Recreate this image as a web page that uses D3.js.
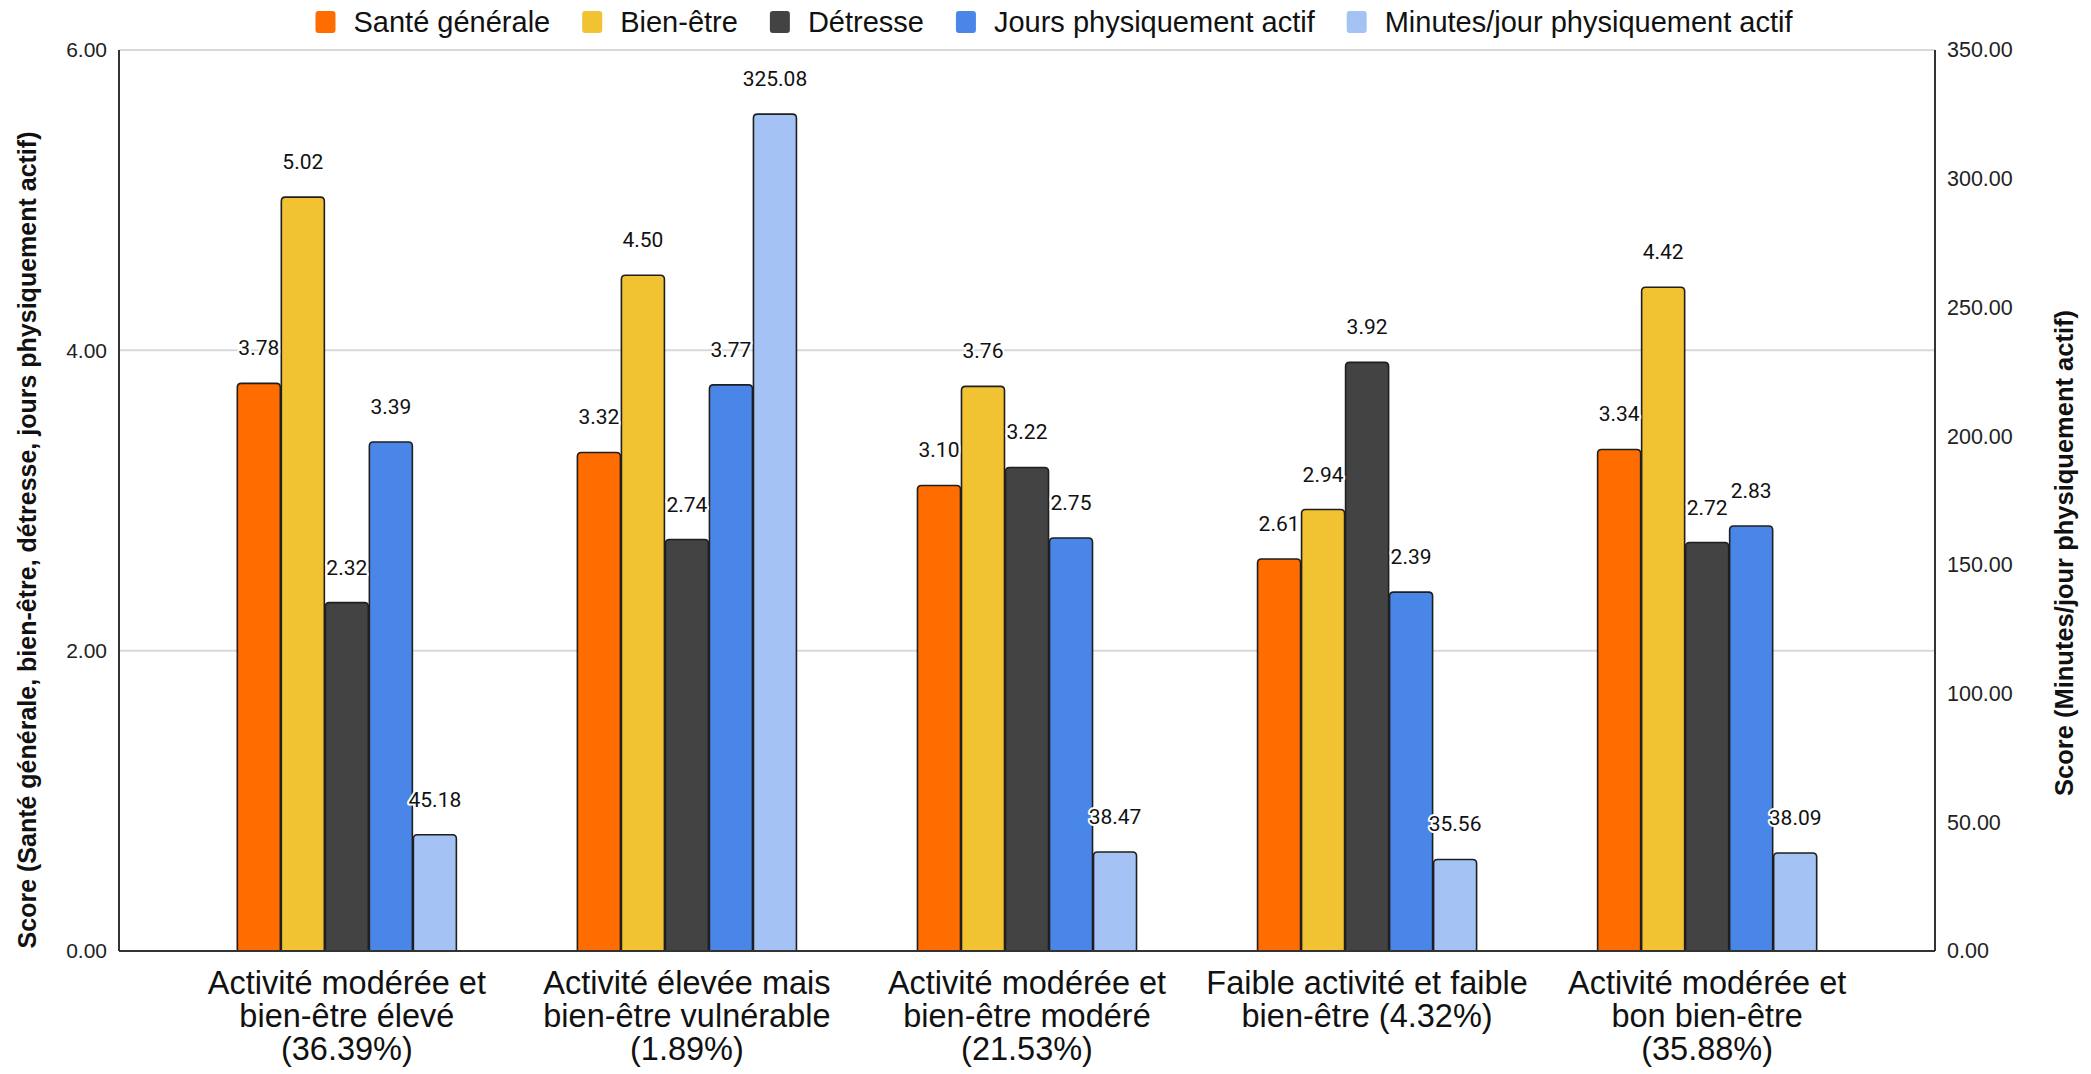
<!DOCTYPE html>
<html>
<head>
<meta charset="utf-8">
<script src="https://cdn.jsdelivr.net/npm/d3@7"></script>
<style>
  html, body { margin: 0; padding: 0; background: #ffffff; }
  svg { display: block; }
</style>
</head>
<body>
<svg id="chart" width="2091" height="1074"></svg>
<script>
// Profils d'activité et de bien-être
const categories = [
  ["Activité modérée et", "bien-être élevé", "(36.39%)"],
  ["Activité élevée mais", "bien-être vulnérable", "(1.89%)"],
  ["Activité modérée et", "bien-être modéré", "(21.53%)"],
  ["Faible activité et faible", "bien-être (4.32%)"],
  ["Activité modérée et", "bon bien-être", "(35.88%)"]
];
const seriesNames = ["Santé générale", "Bien-être", "Détresse", "Jours physiquement actif", "Minutes/jour physiquement actif"];
const santeGenerale = [3.78, 3.32, 3.10, 2.61, 3.34];
const bienEtre      = [5.02, 4.50, 3.76, 2.94, 4.42];
const detresse      = [2.32, 2.74, 3.22, 3.92, 2.72];
const joursActif    = [3.39, 3.77, 2.75, 2.39, 2.83];
const minutesActif  = [45.18, 325.08, 38.47, 35.56, 38.09];
const leftTicks  = [0, 2, 4, 6];
const rightTicks = [0, 50, 100, 150, 200, 250, 300, 350];
const colors = ["#ff6d01", "#f1c232", "#434343", "#4a86e8", "#a4c2f4"];

const seriesValues = [santeGenerale, bienEtre, detresse, joursActif, minutesActif];
const seriesAxis = ["left", "left", "left", "left", "right"];

const svg = d3.select("#chart");
const plot = { left: 119, right: 1935, top: 50, bottom: 951 };
const FONT = "'Liberation Sans', Arial, Helvetica, sans-serif";
const LABEL_FONT = "Roboto, 'Liberation Sans', Arial, sans-serif";

const catIdx = categories.map((c, i) => i);
const x0 = d3.scaleBand().domain(catIdx).range([plot.left, plot.right])
  .paddingInner(0).paddingOuter(0.17);
const x1 = d3.scaleBand().domain(d3.range(seriesNames.length)).range([0, x0.bandwidth()])
  .paddingInner(0.0227).paddingOuter(1.375);
const yLeft = d3.scaleLinear().domain([0, 6]).range([plot.bottom, plot.top]);
const yRight = d3.scaleLinear().domain([0, 350]).range([plot.bottom, plot.top]);

// Gridlines on the left-axis ticks
svg.append("g").selectAll("line").data(leftTicks).join("line")
  .attr("x1", plot.left).attr("x2", plot.right)
  .attr("y1", d => yLeft(d)).attr("y2", d => yLeft(d))
  .attr("stroke", "#d9d9d9").attr("stroke-width", 2);

// Left axis
const leftAxis = svg.append("g").attr("transform", `translate(${plot.left},0)`)
  .call(d3.axisLeft(yLeft).tickValues(leftTicks).tickFormat(d3.format(".2f")).tickSize(0).tickPadding(12));
leftAxis.select(".domain").remove();
leftAxis.selectAll("text").attr("font-family", FONT).attr("font-size", 21).attr("fill", "#222");

// Right axis
const rightAxis = svg.append("g").attr("transform", `translate(${plot.right},0)`)
  .call(d3.axisRight(yRight).tickValues(rightTicks).tickFormat(d3.format(".2f")).tickSize(0).tickPadding(12));
rightAxis.select(".domain").remove();
rightAxis.selectAll("text").attr("font-family", FONT).attr("font-size", 21.5).attr("fill", "#222");

// Bars
const barData = [];
seriesValues.forEach((vals, s) => {
  vals.forEach((v, c) => barData.push({ s, c, v, y: seriesAxis[s] === "left" ? yLeft : yRight }));
});

function topRounded(x, y, w, h, r) {
  r = Math.min(r, h / 2, w / 2);
  return `M${x},${y + h}V${y + r}Q${x},${y} ${x + r},${y}H${x + w - r}Q${x + w},${y} ${x + w},${y + r}V${y + h}Z`;
}

svg.append("g").selectAll("path").data(barData).join("path")
  .attr("d", d => {
    const bx = x0(d.c) + x1(d.s);
    const by = d.y(d.v);
    return topRounded(bx, by, x1.bandwidth(), plot.bottom - by, 4);
  })
  .attr("fill", d => colors[d.s])
  .attr("stroke", "#1f1f1f")
  .attr("stroke-width", 1.6);

// Axis lines
svg.append("line").attr("x1", plot.left).attr("x2", plot.left).attr("y1", plot.top).attr("y2", plot.bottom)
  .attr("stroke", "#333").attr("stroke-width", 2);
svg.append("line").attr("x1", plot.right).attr("x2", plot.right).attr("y1", plot.top).attr("y2", plot.bottom)
  .attr("stroke", "#333").attr("stroke-width", 2);
svg.append("line").attr("x1", plot.left).attr("x2", plot.right).attr("y1", plot.bottom).attr("y2", plot.bottom)
  .attr("stroke", "#333").attr("stroke-width", 2);

// Value labels
svg.append("g").selectAll("text").data(barData).join("text")
  .attr("x", d => x0(d.c) + x1(d.s) + x1.bandwidth() / 2)
  .attr("y", d => d.y(d.v) - 28)
  .attr("text-anchor", "middle")
  .attr("font-family", LABEL_FONT).attr("font-size", 21).attr("fill", "#111")
  .attr("stroke", "#ffffff").attr("stroke-width", 4).attr("stroke-linejoin", "round")
  .attr("paint-order", "stroke")
  .text(d => d3.format(".2f")(d.v));

// Category labels
const catG = svg.append("g");
categories.forEach((lines, i) => {
  const t = catG.append("text")
    .attr("x", x0(i) + x0.bandwidth() / 2)
    .attr("y", 994)
    .attr("text-anchor", "middle")
    .attr("font-family", FONT).attr("font-size", 32.5).attr("fill", "#111");
  lines.forEach((ln, k) => {
    t.append("tspan").attr("x", x0(i) + x0.bandwidth() / 2).attr("dy", k === 0 ? 0 : 33).text(ln);
  });
});

// Axis titles
svg.append("text")
  .attr("transform", "translate(36,540) rotate(-90)")
  .attr("text-anchor", "middle")
  .attr("font-family", FONT).attr("font-size", 25).attr("font-weight", "bold").attr("fill", "#111")
  .text("Score (Santé générale, bien-être, détresse, jours physiquement actif)");
svg.append("text")
  .attr("transform", "translate(2073,553) rotate(-90)")
  .attr("text-anchor", "middle")
  .attr("font-family", FONT).attr("font-size", 25.5).attr("font-weight", "bold").attr("fill", "#111")
  .text("Score (Minutes/jour physiquement actif)");

// Legend
const legend = svg.append("g");
let lx = 0;
seriesNames.forEach((name, i) => {
  const g = legend.append("g");
  g.append("rect").attr("x", 0).attr("y", -11).attr("width", 20).attr("height", 22).attr("rx", 3)
    .attr("fill", colors[i]);
  const t = g.append("text").attr("x", 38).attr("y", 10)
    .attr("font-family", FONT).attr("font-size", 29).attr("fill", "#111").text(name);
  const w = 38 + t.node().getComputedTextLength();
  g.attr("transform", `translate(${lx},0)`);
  lx += w + 32;
});
const legendWidth = lx - 32;
legend.attr("transform", `translate(${1054 - legendWidth / 2},22)`);
</script>
</body>
</html>
